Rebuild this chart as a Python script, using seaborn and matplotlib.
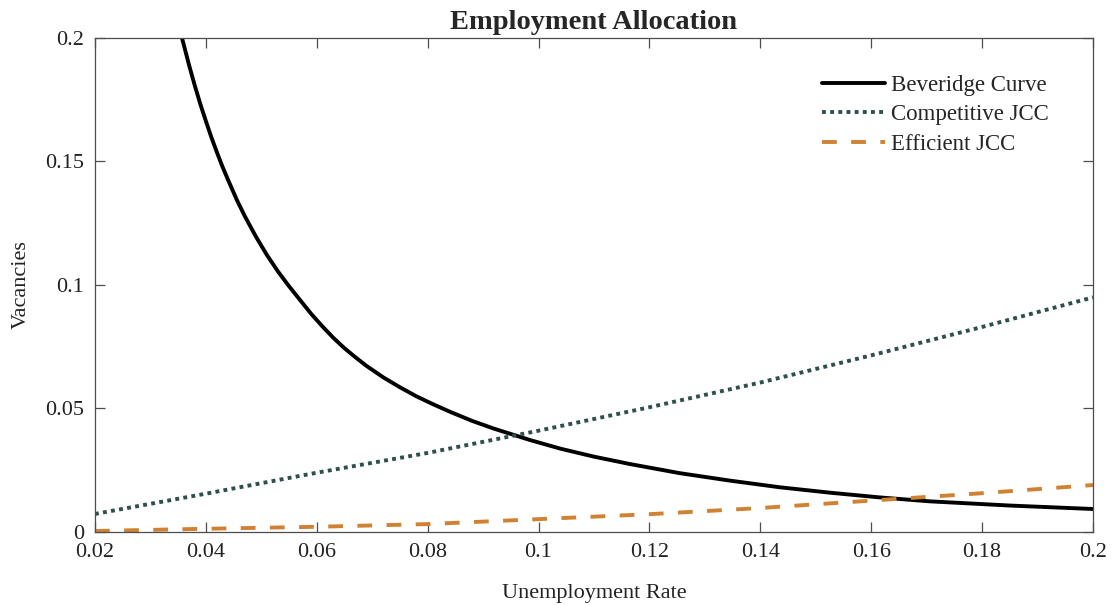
import numpy as np
import pandas as pd
import seaborn as sns
import matplotlib
matplotlib.use("Agg")
import matplotlib.pyplot as plt

# Values
bev_u = [0.0357, 0.037, 0.038, 0.039, 0.040, 0.041, 0.042, 0.043, 0.044, 0.0456,
         0.047, 0.049, 0.051, 0.053, 0.055, 0.057, 0.059, 0.061, 0.063, 0.065,
         0.067, 0.069, 0.072, 0.075, 0.078, 0.081, 0.084, 0.088, 0.092, 0.0985,
         0.104, 0.110, 0.1165, 0.1255, 0.1345, 0.1435, 0.1526, 0.1615, 0.1706,
         0.185, 0.200]
bev_v = [0.2000, 0.1888, 0.1808, 0.1733, 0.1664, 0.1598, 0.1537, 0.1479, 0.1426, 0.1344,
         0.1280, 0.1197, 0.1122, 0.1055, 0.0995, 0.0939, 0.0883, 0.0833, 0.0786, 0.0744,
         0.0707, 0.0672, 0.0626, 0.0586, 0.0549, 0.0517, 0.0487, 0.0450, 0.0418, 0.0372,
         0.0337, 0.0305, 0.0275, 0.0238, 0.0208, 0.0181, 0.0159, 0.0140, 0.0124,
         0.0107, 0.0093]

jcc_u = [0.02, 0.04, 0.06, 0.08, 0.10, 0.12, 0.14, 0.16, 0.18, 0.20]
comp_v = [0.0073, 0.0155, 0.0240, 0.0320, 0.0410, 0.0505, 0.0605, 0.0715, 0.0830, 0.0950]
eff_v = [0.0004, 0.0013, 0.0021, 0.0032, 0.0052, 0.0072, 0.0097, 0.0127, 0.0157, 0.0190]

x_ticks = [0.02, 0.04, 0.06, 0.08, 0.1, 0.12, 0.14, 0.16, 0.18, 0.2]
x_labels = ["0.02", "0.04", "0.06", "0.08", "0.1", "0.12", "0.14", "0.16", "0.18", "0.2"]
y_ticks = [0, 0.05, 0.1, 0.15, 0.2]
y_labels = ["0", "0.05", "0.1", "0.15", "0.2"]

sns.set_style("ticks")
plt.rcParams["font.family"] = ["Liberation Serif", "DejaVu Serif"]
plt.rcParams["axes.edgecolor"] = "#4d4d4d"
plt.rcParams["axes.linewidth"] = 0.9

fig = plt.figure(figsize=(11.17, 6.05), dpi=100)
ax = fig.add_axes([0.085, 0.1207, 0.8935, 0.8165])

bev = pd.DataFrame({"u": bev_u, "v": bev_v})
jcc = pd.DataFrame({"u": jcc_u, "comp": comp_v, "eff": eff_v})

sns.lineplot(data=bev, x="u", y="v", ax=ax, color="black", linewidth=2.8,
             label="Beveridge Curve", sort=False)
sns.lineplot(data=jcc, x="u", y="comp", ax=ax, color="#2f4f4f", linewidth=2.8,
             linestyle=(0, (1, 1.1)), label="Competitive JCC")
sns.lineplot(data=jcc, x="u", y="eff", ax=ax, color="#d08232", linewidth=2.8,
             linestyle=(0, (3.8, 3.7)), label="Efficient JCC")

ax.set_xlim(0.02, 0.2)
ax.set_ylim(0, 0.2)
ax.set_xticks(x_ticks)
ax.set_xticklabels(x_labels)
ax.set_yticks(y_ticks)
ax.set_yticklabels(y_labels)
ax.tick_params(direction="in", length=7, width=0.9, top=True, right=True,
               labelsize=16, colors="#4d4d4d", labelcolor="#222222", pad=8)
for s in ax.spines.values():
    s.set_visible(True)

ax.set_xlabel("Unemployment Rate", fontsize=16, color="#222222", labelpad=16)
ax.set_ylabel("Vacancies", fontsize=16, color="#222222", labelpad=10)
ax.set_title("Employment Allocation", fontsize=20.5, fontweight="bold", pad=6.5)

ax.legend(loc="upper left", frameon=False, fontsize=16.5, handlelength=2.75,
          handletextpad=0.25, labelspacing=0.36, borderpad=0, borderaxespad=0,
          bbox_to_anchor=(0.7285, 0.925))

fig.savefig("out.png", dpi=100)
